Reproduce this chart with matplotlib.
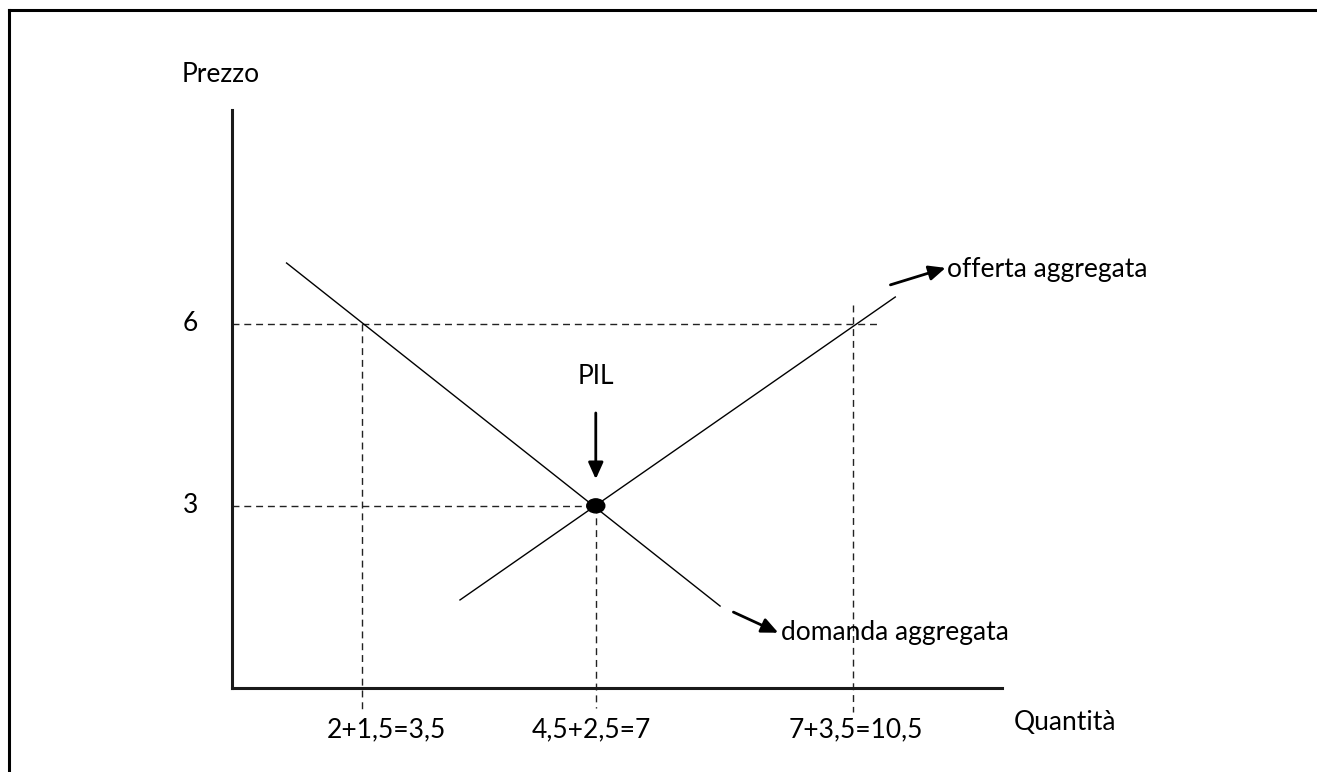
import matplotlib
matplotlib.use("Agg")
import matplotlib.pyplot as plt
from matplotlib.patches import Ellipse
from matplotlib.lines import Line2D

plt.rcParams['font.family'] = ['Lato', 'DejaVu Sans']

# schematic coordinates (quantity axis is not to scale in the sketch)
q_pos = [2.15, 6.0, 10.25]
q_labels = ['2+1,5=3,5', '4,5+2,5=7', '7+3,5=10,5']
p_levels = [6, 3]
p_labels = ['6', '3']

demand_x = [0.9, 8.05]
demand_y = [7.0, 1.35]
supply_x = [3.76, 10.94]
supply_y = [1.45, 6.44]

eq_q, eq_p = 6.0, 3.0

fig = plt.figure(figsize=(13.17, 7.72), dpi=100)
ax = fig.add_axes([232 / 1317, 84 / 772, 770 / 1317, 578 / 772])
ax.set_xlim(0, 12.7)
ax.set_ylim(0, 9.52)

for s in ['top', 'right']:
    ax.spines[s].set_visible(False)
for s in ['left', 'bottom']:
    ax.spines[s].set_linewidth(2.2)
    ax.spines[s].set_color('#1a1a1a')
ax.set_xticks([])
ax.set_yticks([])
ax.patch.set_alpha(0)

# border of the sketch
fig.add_artist(Line2D([9 / 1317, 9 / 1317], [0, 1 - 10 / 772], color='black', lw=2.2))
fig.add_artist(Line2D([9 / 1317, 1], [1 - 10 / 772, 1 - 10 / 772], color='black', lw=2.2))

dash = dict(color='#222222', lw=1.0, linestyle=(0, (5, 3.5)), clip_on=False)
# horizontal guides
ax.plot([0, 10.69], [p_levels[0], p_levels[0]], **dash)
ax.plot([0, eq_q], [p_levels[1], p_levels[1]], **dash)
# vertical guides
ax.plot([q_pos[0], q_pos[0]], [p_levels[0], -0.40], **dash)
ax.plot([q_pos[1], q_pos[1]], [eq_p, -0.33], **dash)
ax.plot([q_pos[2], q_pos[2]], [6.31, -0.40], **dash)

# curves
ax.plot(demand_x, demand_y, color='black', lw=1.0)
ax.plot(supply_x, supply_y, color='black', lw=1.0)

# equilibrium point
ax.add_patch(Ellipse((eq_q, eq_p), 18 / 60.6, 14 / 60.7, color='black', zorder=5))

arrow = dict(arrowstyle='-|>,head_length=1.0,head_width=0.45', color='black', lw=2.0,
             shrinkA=0, shrinkB=0)
ax.annotate('', xy=(eq_q, 3.44), xytext=(eq_q, 4.53), arrowprops=arrow, annotation_clip=False)
ax.annotate('', xy=(11.77, 6.92), xytext=(10.86, 6.64), arrowprops=arrow, annotation_clip=False)
ax.annotate('', xy=(9.01, 0.91), xytext=(8.27, 1.25), arrowprops=arrow, annotation_clip=False)

fs = 19
ax.text(eq_q, 4.93, 'PIL', ha='center', va='bottom', fontsize=fs)
ax.text(11.79, 6.89, 'offerta aggregata', ha='left', va='center', fontsize=fs, clip_on=False)
ax.text(9.05, 0.92, 'domanda aggregata', ha='left', va='center', fontsize=fs, clip_on=False)
ax.text(-0.18, 10.1, 'Prezzo', ha='center', va='center', fontsize=fs, clip_on=False)
ax.text(12.89, -0.56, 'Quantità', ha='left', va='center', fontsize=fs, clip_on=False)

for p, lab in zip(p_levels, p_labels):
    ax.text(-0.69, p, lab, ha='center', va='center', fontsize=fs, clip_on=False)

label_x = [2.55, 5.93, 10.29]
for x, lab in zip(label_x, q_labels):
    ax.text(x, -0.69, lab, ha='center', va='center', fontsize=fs, clip_on=False)

fig.savefig('out.png', dpi=100)
